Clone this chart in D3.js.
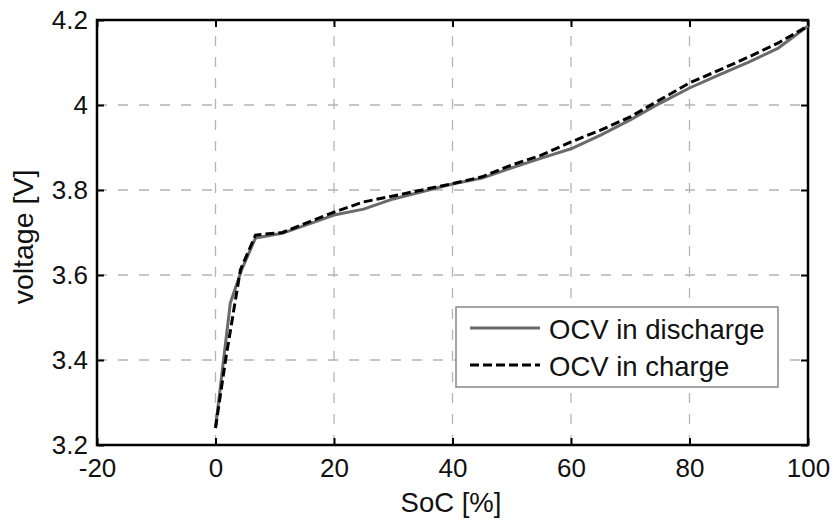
<!DOCTYPE html>
<html><head><meta charset="utf-8">
<script src="https://cdn.jsdelivr.net/npm/d3@7"></script>
<style>body{margin:0;background:#fff}svg{display:block}text{font-family:"Liberation Sans",Arial,sans-serif}</style>
</head><body><svg id="c" width="833" height="523"></svg>
<script>
const xTicks = [-20, 0, 20, 40, 60, 80, 100];
const xTickLabels = ["-20", "0", "20", "40", "60", "80", "100"];
const yTicks = [3.2, 3.4, 3.6, 3.8, 4.0, 4.2];
const yTickLabels = ["3.2", "3.4", "3.6", "3.8", "4", "4.2"];
const dischargeSoc = [0, 2.5, 4.4, 6.75, 11.5, 20, 25, 30, 40, 45, 50, 55, 60, 65, 70, 75, 80, 85, 90, 95, 100];
const dischargeV   = [3.24, 3.534, 3.612, 3.687, 3.699, 3.741, 3.755, 3.779, 3.814, 3.828, 3.852, 3.875, 3.897, 3.929, 3.965, 4.004, 4.04, 4.071, 4.101, 4.134, 4.186];
const chargeSoc = [0, 1.7, 4.2, 6.75, 11.3, 20, 25, 30, 40, 45, 50, 55, 60, 65, 70, 75, 80, 85, 90, 95, 100];
const chargeV   = [3.24, 3.40, 3.612, 3.694, 3.70, 3.748, 3.772, 3.786, 3.815, 3.831, 3.859, 3.882, 3.913, 3.941, 3.972, 4.012, 4.052, 4.082, 4.113, 4.146, 4.186];
const seriesNames = ["OCV in discharge", "OCV in charge"];

const svg = d3.select("#c");
const L = 97, R = 808, T = 20, B = 445;
const x = d3.scaleLinear().domain([-20, 100]).range([L, R]);
const y = d3.scaleLinear().domain([3.2, 4.2]).range([B, T]);
const fsTick = 26, fsLab = 27.5;

// grid
const grid = svg.append("g").attr("stroke", "#b4b4b4").attr("stroke-width", 1.3).attr("stroke-dasharray", "10,11");
grid.selectAll(".gx").data(xTicks.slice(1, -1)).join("line")
  .attr("x1", d => x(d)).attr("x2", d => x(d)).attr("y1", B).attr("y2", T);
grid.selectAll(".gy").data(yTicks.slice(1, -1)).join("line")
  .attr("y1", d => y(d)).attr("y2", d => y(d)).attr("x1", L).attr("x2", R);

// axes (ticks inward on all sides)
const tl = 7;
const ax = svg.append("g");
ax.append("g").attr("transform", `translate(0,${B})`)
  .call(d3.axisBottom(x).tickValues(xTicks).tickSize(-tl).tickPadding(14).tickFormat((d, i) => xTickLabels[i]));
ax.append("g").attr("transform", `translate(0,${T})`)
  .call(d3.axisTop(x).tickValues(xTicks).tickSize(-tl).tickFormat(""));
ax.append("g").attr("transform", `translate(${L},0)`)
  .call(d3.axisLeft(y).tickValues(yTicks).tickSize(-tl).tickPadding(9).tickFormat((d, i) => yTickLabels[i]));
ax.append("g").attr("transform", `translate(${R},0)`)
  .call(d3.axisRight(y).tickValues(yTicks).tickSize(-tl).tickFormat(""));
ax.selectAll(".domain").remove();
ax.selectAll(".tick line").attr("stroke", "#000").attr("stroke-width", 2);
ax.selectAll("text").attr("font-size", fsTick).attr("fill", "#111").attr("font-family", '"Liberation Sans",Arial,sans-serif');
svg.append("rect").attr("x", L).attr("y", T).attr("width", R - L).attr("height", B - T)
  .attr("fill", "none").attr("stroke", "#000").attr("stroke-width", 2.5);

// lines
const line = d3.line().x(d => x(d[0])).y(d => y(d[1]));
const dis = dischargeSoc.map((s, i) => [s, dischargeV[i]]);
const chg = chargeSoc.map((s, i) => [s, chargeV[i]]);
svg.append("path").datum(dis).attr("d", line).attr("fill", "none")
  .attr("stroke", "#6a6a6a").attr("stroke-width", 3).attr("stroke-linejoin", "round");
svg.append("path").datum(chg).attr("d", line).attr("fill", "none")
  .attr("stroke", "#000").attr("stroke-width", 3).attr("stroke-dasharray", "9,4");

// labels
svg.append("text").attr("x", 451).attr("y", 512).attr("text-anchor", "middle")
  .attr("font-size", fsLab).attr("fill", "#111").text("SoC [%]");
svg.append("text").attr("transform", `translate(33,237) rotate(-90)`).attr("text-anchor", "middle")
  .attr("font-size", fsLab + 1).attr("fill", "#111").text("voltage [V]");

// legend
const lg = svg.append("g");
lg.append("rect").attr("x", 456).attr("y", 307).attr("width", 322).attr("height", 80)
  .attr("fill", "#fff").attr("stroke", "#888").attr("stroke-width", 1.5);
const styles = [{c: "#6a6a6a", d: null}, {c: "#000", d: "9,4"}];
seriesNames.forEach((n, i) => {
  const yy = 328 + i * 37;
  lg.append("line").attr("x1", 470).attr("x2", 540).attr("y1", yy).attr("y2", yy)
    .attr("stroke", styles[i].c).attr("stroke-width", 3).attr("stroke-dasharray", styles[i].d);
  lg.append("text").attr("x", 549).attr("y", yy + 11).attr("font-size", fsLab).attr("fill", "#111").text(n);
});
</script></body></html>
